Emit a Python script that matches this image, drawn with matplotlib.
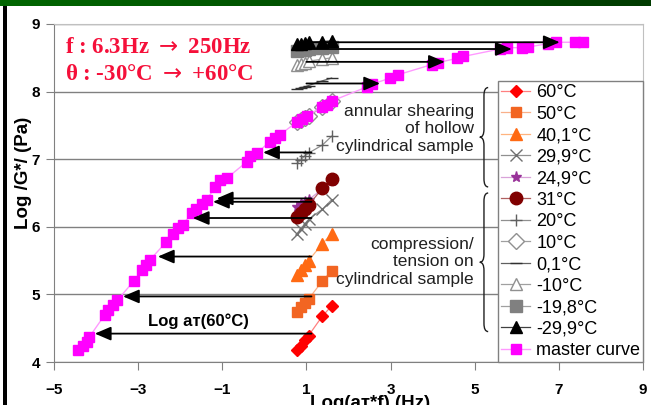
import numpy as np
import matplotlib
matplotlib.use("Agg")
import matplotlib.pyplot as plt
from matplotlib.path import Path
from matplotlib.patches import PathPatch, Rectangle

plt.rcParams["font.family"] = ["Liberation Sans", "DejaVu Sans"]

# log of the test frequencies (Hz)
log_f = [0.78, 0.86, 0.96, 1.05, 1.38, 1.60]

# isotherms: Log |G*| (Pa)
g_60 = [4.18, 4.24, 4.32, 4.39, 4.68, 4.83]
g_50 = [4.74, 4.82, 4.88, 4.93, 5.20, 5.35]
g_40 = [5.29, 5.36, 5.43, 5.50, 5.75, 5.90]
g_29 = [5.90, 5.97, 6.04, 6.11, 6.26, 6.40]
g_24 = [6.30, 6.33, 6.36, 6.40, 6.56, 6.68]
g_31 = [6.15, 6.20, 6.26, 6.32, 6.57, 6.70]
g_20 = [6.94, 6.99, 7.05, 7.09, 7.21, 7.34]
g_10 = [7.55, 7.58, 7.61, 7.64, 7.77, 7.86]
g_0 = [8.04, 8.06, 8.07, 8.09, 8.16, 8.20]
g_m10 = [8.39, 8.41, 8.43, 8.45, 8.48, 8.50]
g_m19 = [8.60, 8.61, 8.62, 8.63, 8.65, 8.66]
g_m29 = [8.70, 8.71, 8.72, 8.73, 8.74, 8.75]

# master curve (reduced frequency)
master_x = [-4.42, -4.32, -4.22, -4.16, -3.79, -3.71, -3.59, -3.50, -3.10, -2.92,
            -2.81, -2.72, -2.34, -2.16, -2.05, -1.94, -1.73, -1.62, -1.49, -1.37,
            -1.17, -1.05, -0.89, -0.42, -0.34, -0.18, 0.13, 0.25, 0.37, 0.77,
            0.89, 1.01, 1.36, 1.48, 1.60, 2.44, 2.56, 2.99, 3.18, 3.98,
            4.13, 4.57, 4.73, 5.60, 5.76, 6.12, 6.27, 6.75, 6.93, 7.38, 7.57]
master_y = [4.18, 4.24, 4.30, 4.37, 4.70, 4.77, 4.84, 4.91, 5.20, 5.36,
            5.43, 5.51, 5.77, 5.90, 5.98, 6.03, 6.20, 6.27, 6.34, 6.40,
            6.59, 6.69, 6.72, 6.96, 7.04, 7.09, 7.26, 7.31, 7.36, 7.55,
            7.60, 7.64, 7.77, 7.80, 7.86, 8.07, 8.11, 8.20, 8.25, 8.40,
            8.43, 8.49, 8.52, 8.63, 8.65, 8.65, 8.66, 8.71, 8.73, 8.73, 8.74]

# shift arrows
shift_y = [4.42, 4.97, 5.56, 6.13, 6.37, 6.42, 7.10, 8.12, 8.44, 8.63, 8.73]
shift_from = [1.12, 1.12, 1.12, 1.12, 1.12, 1.12, 1.12, 1.0, 1.0, 1.0, 1.0]
shift_to = [-4.03, -3.36, -2.53, -1.70, -1.22, -1.13, -0.03, 2.75, 4.29, 5.88, 7.02]

x_ticks = [-5, -3, -1, 1, 3, 5, 7, 9]
y_ticks = [4, 5, 6, 7, 8, 9]

# label, values, marker, colour, face, line colour, size
series = [
    ("60°C", g_60, "D", "#FF0000", "#FF0000", "#FF8080", 6),
    ("50°C", g_50, "s", "#F26522", "#F26522", "#F9B08A", 7),
    ("40,1°C", g_40, "^", "#FF6A13", "#FF6A13", "#FFB47F", 8),
    ("29,9°C", g_29, "x", "#707070", "#707070", "#909090", 9),
    ("24,9°C", g_24, "*", "#993399", "#993399", "#D9A3D9", 8),
    ("31°C", g_31, "o", "#800000", "#800000", "#B06060", 9),
    ("20°C", g_20, "+", "#606060", "#606060", "#909090", 9),
    ("10°C", g_10, "D", "#909090", "white", "#A0A0A0", 8),
    ("0,1°C", g_0, "_", "#303030", "#303030", "#606060", 9),
    ("-10°C", g_m10, "^", "#909090", "white", "#A0A0A0", 9),
    ("-19,8°C", g_m19, "s", "#808080", "#808080", "#A0A0A0", 8),
    ("-29,9°C", g_m29, "^", "#000000", "#000000", "#404040", 9),
]


def draw_brace(ax, x, y_top, y_bot, w=0.1, r=0.12):
    y_mid = (y_top + y_bot) / 2
    verts = [
        (x + w, y_top), (x, y_top), (x, y_top - r),
        (x, y_mid + r),
        (x, y_mid), (x - w, y_mid),
        (x, y_mid), (x, y_mid - r),
        (x, y_bot + r),
        (x, y_bot), (x + w, y_bot),
    ]
    codes = [Path.MOVETO, Path.CURVE3, Path.CURVE3, Path.LINETO,
             Path.CURVE3, Path.CURVE3, Path.CURVE3, Path.CURVE3,
             Path.LINETO, Path.CURVE3, Path.CURVE3]
    ax.add_patch(PathPatch(Path(verts, codes), fill=False, lw=1.0, ec="#202020"))


fig = plt.figure(figsize=(6.51, 4.05), dpi=100)

# slide frame: green bar on top, black line on the left
bar = fig.add_axes([0, 1 - 6 / 405, 1, 6 / 405])
grad = np.linspace(0, 1, 256).reshape(1, -1)
bar.imshow(grad, aspect="auto", cmap=matplotlib.colors.LinearSegmentedColormap.from_list(
    "g", ["#006600", "#003B00"]))
bar.axis("off")
fig.add_artist(Rectangle((3 / 651, 0), 3.5 / 651, 1 - 6 / 405, transform=fig.transFigure,
                         color="black", lw=0))

ax = fig.add_axes([54 / 651, 1 - 362 / 405, 589 / 651, 338 / 405])

for label, vals, mk, col, face, lcol, ms in series:
    ax.plot(log_f, vals, color=lcol, lw=0.9, marker=mk, ms=ms, mfc=face, mec=col,
            mew=1.0, label=label, zorder=3)

ax.plot(master_x, master_y, color="#FF99FF", lw=1.0, marker="s", ms=7.5,
        mfc="#FF00FF", mec="#FF00FF", label="master curve", zorder=4)

for y, x0, x1 in zip(shift_y, shift_from, shift_to):
    ax.annotate("", xy=(x1, y), xytext=(x0, y), zorder=5,
                arrowprops=dict(arrowstyle="-|>,head_length=0.7,head_width=0.3",
                                color="black", lw=1.3, shrinkA=0, shrinkB=0,
                                mutation_scale=14))

ax.set_xlim(-5, 9)
ax.set_ylim(4, 9)
ax.set_xticks(x_ticks)
ax.set_yticks(y_ticks)
ax.grid(axis="y", color="#808080", lw=1.0)
ax.set_axisbelow(True)
for side in ["left", "bottom"]:
    ax.spines[side].set_color("#808080")
for side in ["top", "right"]:
    ax.spines[side].set_color("#C0C0C0")
ax.tick_params(direction="out", length=6, color="#808080", labelsize=11)
ax.tick_params(axis="x", pad=9)
ax.tick_params(axis="y", pad=4)
for t in ax.get_xticklabels() + ax.get_yticklabels():
    t.set_fontweight("bold")

ax.set_xlabel("Log(aт*f) (Hz)", fontsize=13.5, fontweight="bold")
ax.xaxis.set_label_coords(0.537, -0.098)
ax.set_ylabel("Log /G*/ (Pa)", fontsize=13.5, fontweight="bold")
ax.yaxis.set_label_coords(-0.038, 0.559)

red = "#F5103A"
ax.text(-4.74, 8.65, r"f : 6.3Hz $\rightarrow$ 250Hz", color=red, fontsize=16.5,
        fontweight="bold", family=["Liberation Serif", "DejaVu Serif"], va="center")
ax.text(-4.74, 8.25, r"θ : -30°C $\rightarrow$ +60°C", color=red, fontsize=16.5,
        fontweight="bold", family=["Liberation Serif", "DejaVu Serif"], va="center")

ax.text(-2.77, 4.60, "Log aт(60°C)", fontsize=12, fontweight="bold", va="center")

ax.text(4.98, 7.45, "annular shearing\nof hollow\ncylindrical sample", ha="right",
        va="center", fontsize=12.5, linespacing=1.22, color="#202020")
ax.text(4.98, 5.48, "compression/\ntension on\ncylindrical sample", ha="right",
        va="center", fontsize=12.5, linespacing=1.22, color="#202020")
draw_brace(ax, 5.22, 8.06, 6.59)
draw_brace(ax, 5.22, 6.50, 4.45)

leg = ax.legend(loc="lower right", bbox_to_anchor=(1, 0), borderaxespad=0, fontsize=13,
                frameon=True, fancybox=False, edgecolor="#808080", framealpha=1,
                labelspacing=0.25, handlelength=1.6, handletextpad=0.35, borderpad=0.15)
leg.get_frame().set_linewidth(1.0)
leg.set_zorder(6)

fig.savefig("out.png", dpi=100)
